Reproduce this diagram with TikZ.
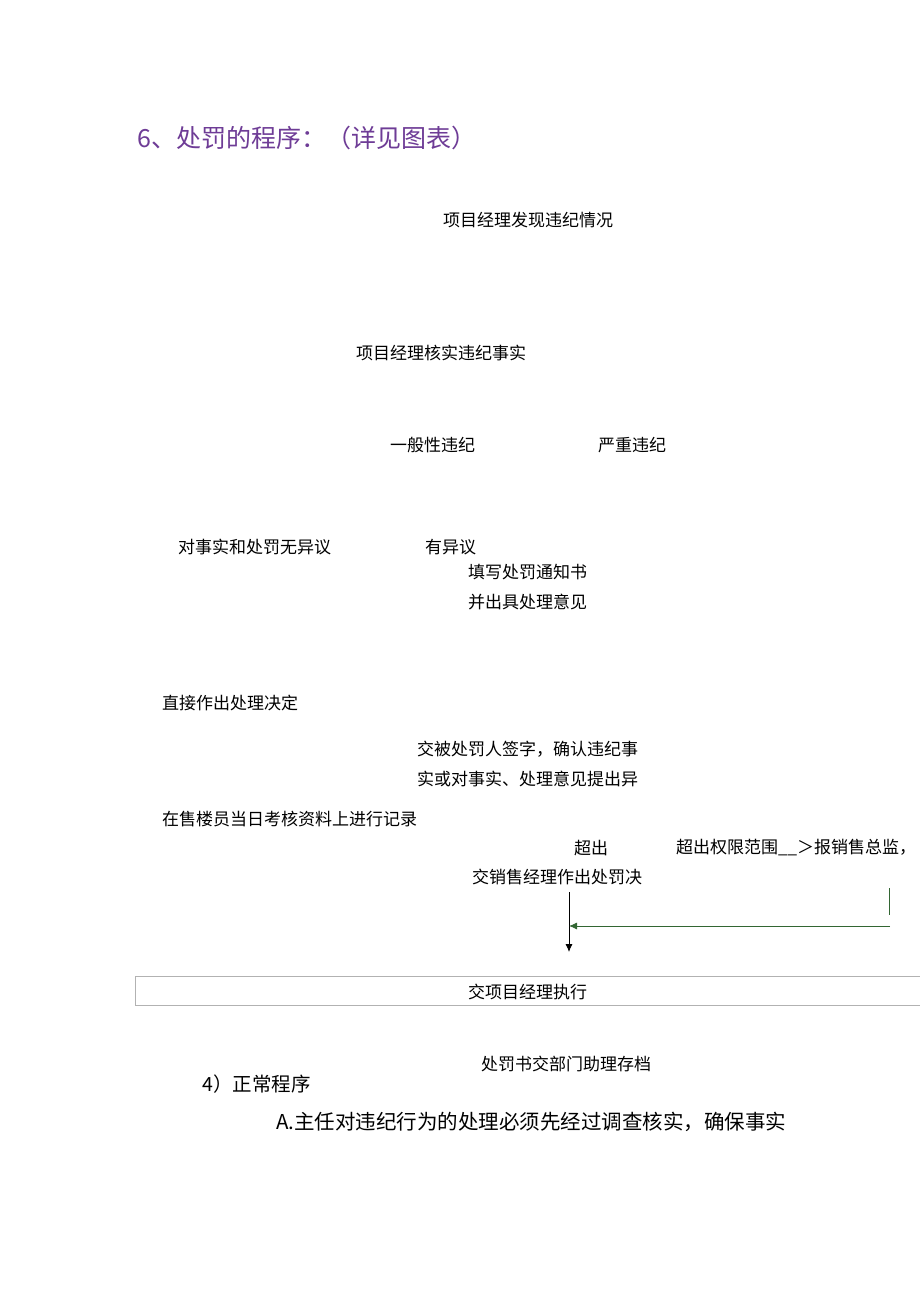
\documentclass[tikz,border=0pt]{standalone}
\usepackage{fontspec}
\usetikzlibrary{arrows.meta}
\newfontfamily\cjk{Noto Sans CJK SC}
\begin{document}
\begin{tikzpicture}[x=1pt,y=-1pt,t/.style={anchor=west,inner sep=0,font=\cjk\fontsize{17}{18}\selectfont},tip/.style={-{Latex[length=8pt,width=7pt]}}]
\useasboundingbox (0,0) rectangle (920,1301);
\node[anchor=west,inner sep=0,text={rgb,255:red,110;green,60;blue,150},font=\cjk\fontsize{25}{28}\selectfont] (h) at (137,138) {6、处罚的程序：（详见图表）};
\node[t] (a) at (443,220) {项目经理发现违纪情况};
\node[t] (b) at (356,353) {项目经理核实违纪事实};
\node[t] (c) at (390,445) {一般性违纪};
\node[t] (d) at (598,445) {严重违纪};
\node[t] (e) at (178,547) {对事实和处罚无异议};
\node[t] (f) at (425,547) {有异议};
\node[t] (g) at (468,572) {填写处罚通知书};
\node[t] (g2) at (468,602) {并出具处理意见};
\node[t] (i) at (162,703) {直接作出处理决定};
\node[t] (j) at (417,749) {交被处罚人签字，确认违纪事};
\node[t] (j2) at (417,779) {实或对事实、处理意见提出异};
\node[t] (k) at (162,819) {在售楼员当日考核资料上进行记录};
\node[t] (l) at (574,848) {超出};
\node[t] (m) at (676,848) {超出权限范围\_\_＞报销售总监，};
\node[t] (n) at (472,877) {交销售经理作出处罚决};
\draw[gray!60] (135,976) rectangle (925,1005);
\node[t] (o) at (468,992) {交项目经理执行};
\coordinate (v1) at (569,892);
\coordinate (v2) at (569,952);
\coordinate (hr) at (890,926);
\coordinate (hl) at (569,926);
\draw[thick,tip] (v1) -- (v2);
\draw[thick,green!25!black!80,tip] (hr) -- (hl);
\draw[thick,green!25!black!80] (889,888) -- (889,915);
\node[t] (p) at (481,1064) {处罚书交部门助理存档};
\node[t,font=\cjk\fontsize{19.5}{22}\selectfont] (q) at (202,1084) {4）正常程序};
\node[t,font=\cjk\fontsize{20.5}{22}\selectfont] (r) at (276,1122) {A.主任对违纪行为的处理必须先经过调查核实，确保事实};
\end{tikzpicture}
\end{document}
